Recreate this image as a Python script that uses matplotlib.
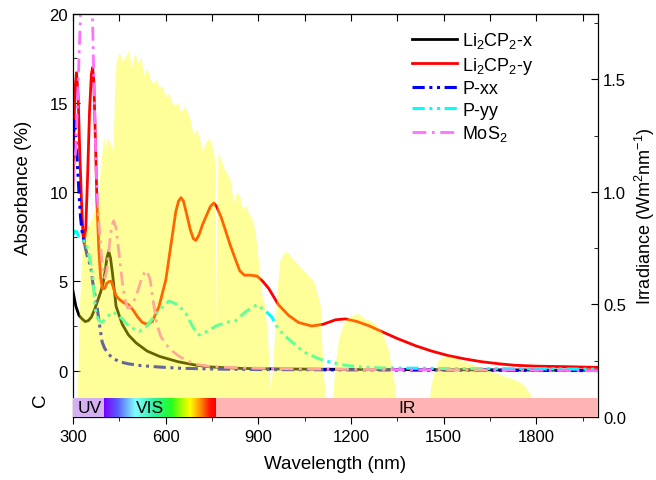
import numpy as np
import matplotlib
matplotlib.use("Agg")
import matplotlib.pyplot as plt
from matplotlib.colors import LinearSegmentedColormap
from matplotlib.ticker import MultipleLocator, FixedLocator
import matplotlib.transforms as mtransforms

plt.rcParams['font.family'] = ['Liberation Sans', 'DejaVu Sans']
plt.rcParams['mathtext.fontset'] = 'custom'
plt.rcParams['mathtext.rm'] = 'Liberation Sans'
plt.rcParams['mathtext.it'] = 'Liberation Sans:italic'
plt.rcParams['mathtext.bf'] = 'Liberation Sans:bold'

# -------------------------------
# Absorbance data
# -------------------------------
wl_x = [300, 310, 320, 330, 340, 350, 360, 370, 380, 390, 398, 405, 410, 416,
        422, 428, 440, 460, 480, 505, 540, 580, 640, 700, 750, 850, 1000,
        1200, 1500, 1800, 2000]
abs_x = [4.5, 3.6, 3.1, 2.9, 2.75, 2.8, 3.0, 3.4, 3.9, 4.4, 4.9, 5.6, 6.3, 6.7,
         6.3, 5.5, 3.6, 2.6, 2.0, 1.55, 1.1, 0.8, 0.5, 0.3, 0.2, 0.12, 0.09,
         0.07, 0.05, 0.03, 0.02]

wl_y = [300, 303, 307, 312, 317, 322, 328, 333, 337, 342, 348, 354, 360, 364,
        368, 373, 378, 384, 390, 396, 403, 410, 418, 425, 432, 440, 450, 465,
        480, 495, 510, 525, 540, 557, 579, 601, 617, 633, 642, 650, 658, 668,
        680, 690, 698, 708, 720, 730, 745, 756, 765, 780, 795, 810, 827, 840,
        855, 875, 896, 915, 934, 965, 998, 1030, 1073, 1110, 1150, 1182, 1220,
        1260, 1298, 1350, 1408, 1460, 1515, 1570, 1622, 1680, 1730, 1800,
        1900, 2000]
abs_y = [10.0, 13.0, 15.8, 16.7, 15.5, 12.5, 9.5, 7.6, 7.1, 8.0, 11.0, 14.5,
         16.6, 17.0, 16.2, 13.0, 9.5, 6.8, 5.2, 4.6, 4.6, 4.9, 5.0, 5.0, 4.6,
         4.2, 4.0, 3.8, 3.7, 3.4, 3.0, 2.7, 2.6, 2.75, 3.6, 5.1, 7.0, 8.9, 9.5,
         9.7, 9.5, 8.8, 7.9, 7.4, 7.3, 7.6, 8.2, 8.6, 9.2, 9.4, 9.2, 8.6, 7.8,
         7.0, 6.2, 5.6, 5.35, 5.35, 5.3, 5.0, 4.6, 3.7, 3.1, 2.7, 2.5, 2.6,
         2.85, 2.9, 2.75, 2.5, 2.2, 1.8, 1.4, 1.1, 0.84, 0.65, 0.5, 0.38, 0.3,
         0.25, 0.22, 0.18]

wl_pxx = [300, 303, 306, 310, 315, 320, 325, 330, 337, 347, 353, 360, 364,
          369, 374, 379, 387, 395, 403, 411, 425, 450, 480, 520, 580, 650,
          750, 900, 1200, 1600, 2000]
abs_pxx = [12.0, 13.5, 14.0, 13.2, 11.5, 10.0, 8.6, 7.8, 7.2, 6.4, 6.1, 5.6,
           5.0, 4.5, 4.0, 3.5, 2.5, 1.6, 1.25, 1.05, 0.75, 0.5, 0.38, 0.28,
           0.2, 0.13, 0.09, 0.06, 0.04, 0.02, 0.0]

wl_pyy = [300, 305, 312, 320, 330, 343, 348, 353, 358, 363, 368, 372, 376,
          385, 395, 410, 430, 445, 460, 475, 490, 515, 540, 557, 585, 611,
          640, 666, 690, 708, 735, 763, 795, 827, 859, 896, 920, 944, 966,
          990, 1009, 1030, 1053, 1095, 1128, 1180, 1234, 1300, 1500, 1800,
          2000]
abs_pyy = [7.6, 7.8, 7.8, 7.5, 7.3, 7.2, 6.8, 6.4, 6.0, 5.5, 4.5, 3.6, 3.1,
           2.8, 2.7, 3.0, 3.3, 3.1, 2.9, 2.6, 2.4, 2.2, 2.5, 2.9, 3.5, 3.9,
           3.7, 3.2, 2.4, 2.0, 2.2, 2.5, 2.7, 2.8, 3.3, 3.7, 3.4, 3.0, 2.3,
           1.9, 1.6, 1.3, 1.0, 0.67, 0.5, 0.3, 0.2, 0.15, 0.12, 0.1, 0.08]

wl_mos2 = [300, 305, 310, 314, 318, 322, 326, 330, 345, 358, 362, 366, 370,
           375, 380, 388, 396, 404, 410, 418, 425, 432, 440, 452, 462, 470,
           478, 490, 505, 520, 532, 540, 550, 560, 572, 585, 600, 615, 640,
           670, 700, 750, 850, 1000, 1300, 1700, 2000]
abs_mos2 = [10.5, 11.5, 12.5, 14.5, 16.5, 18.5, 20.5, 22.0, 24.0, 22.5, 21.0,
            18.0, 15.0, 11.5, 9.5, 7.5, 5.8, 5.2, 5.6, 7.0, 8.0, 8.4, 8.0,
            6.2, 4.7, 3.9, 3.5, 3.6, 4.2, 5.0, 5.5, 5.6, 5.1, 3.9, 2.6, 1.9,
            1.5, 1.2, 0.85, 0.55, 0.35, 0.22, 0.15, 0.1, 0.06, 0.03, 0.0]

# -------------------------------
# Solar irradiance (AM1.5)
# -------------------------------
wl_sun = [300, 310, 315, 320, 330, 340, 350, 360, 370, 380, 390, 400, 405,
          410, 420, 430, 435, 440, 450, 460, 470, 480, 490, 500, 510, 520,
          530, 540, 550, 560, 570, 580, 590, 600, 610, 620, 630, 640, 650,
          660, 670, 680, 690, 700, 710, 720, 730, 740, 750, 758, 762, 766,
          770, 780, 790, 800, 810, 820, 830, 840, 850, 860, 870, 880, 890,
          900, 910, 920, 930, 940, 950, 960, 970, 980, 990, 1000, 1020, 1040,
          1060, 1080, 1100, 1110, 1120, 1130, 1140, 1150, 1160, 1180, 1200,
          1220, 1240, 1260, 1280, 1300, 1320, 1340, 1350, 1440, 1450, 1460,
          1480, 1500, 1520, 1540, 1560, 1580, 1600, 1620, 1640, 1660, 1680,
          1700, 1720, 1740, 1760, 1780, 1790, 2000]
irr_sun = [0.0, 0.0, 0.1, 0.45, 0.75, 0.82, 0.85, 0.88, 0.92, 0.95, 1.12,
           1.25, 1.18, 1.24, 1.22, 1.18, 1.45, 1.58, 1.62, 1.58, 1.6, 1.63,
           1.55, 1.62, 1.57, 1.6, 1.52, 1.55, 1.5, 1.48, 1.5, 1.46, 1.47,
           1.42, 1.44, 1.4, 1.38, 1.4, 1.35, 1.38, 1.36, 1.32, 1.25, 1.28,
           1.24, 1.18, 1.22, 1.24, 1.21, 1.15, 0.4, 0.9, 1.18, 1.14, 1.1,
           1.08, 1.05, 0.95, 1.0, 0.98, 0.92, 0.94, 0.9, 0.88, 0.82, 0.7,
           0.55, 0.5, 0.35, 0.1, 0.3, 0.55, 0.7, 0.72, 0.74, 0.72, 0.69,
           0.66, 0.63, 0.6, 0.5, 0.2, 0.05, 0.02, 0.08, 0.25, 0.35, 0.43,
           0.45, 0.46, 0.44, 0.43, 0.41, 0.38, 0.3, 0.15, 0.0, 0.0, 0.05,
           0.15, 0.25, 0.27, 0.27, 0.26, 0.25, 0.24, 0.23, 0.22, 0.21, 0.2,
           0.19, 0.18, 0.17, 0.16, 0.14, 0.1, 0.0, 0.0]

# Spectral regions of the colour band
uv_range = (300, 400)
vis_range = (400, 760)
ir_range = (760, 2000)

# -------------------------------
# Figure
# -------------------------------
fig = plt.figure(figsize=(6.56, 4.81), dpi=100)
ax = fig.add_axes([0.111, 0.131, 0.801, 0.838])
ax2 = ax.twinx()

h1, = ax.plot(wl_x, abs_x, color="black", lw=2.0, label="Li$_2$CP$_2$-x")
h2, = ax.plot(wl_y, abs_y, color="#ff0000", lw=2.0, label="Li$_2$CP$_2$-y")
h3, = ax.plot(wl_pxx, abs_pxx, color="#0000ff", lw=2.2,
              ls=(0, (4, 1.5, 1, 1.5, 1, 1.5)), label="P-xx")
h4, = ax.plot(wl_pyy, abs_pyy, color="#00ffff", lw=2.2,
              ls=(0, (4, 1.5, 1, 1.5, 1, 1.5)), label="P-yy")
h5, = ax.plot(wl_mos2, abs_mos2, color="#ff70ff", lw=2.0,
              ls=(0, (5, 2, 1, 2)), label="MoS$_2$")

# sun spectrum drawn on top of the curves
ax2.fill_between(wl_sun, irr_sun, 0, color="#ffff00", alpha=0.4, lw=0,
                 zorder=1)

# colour band (UV / VIS / IR)
band_h = 0.047
ax2.axvspan(*uv_range, ymin=0, ymax=band_h, color="#d4b0f2", zorder=3, lw=0)
ax2.axvspan(*ir_range, ymin=0, ymax=band_h, color="#ffb4b4", zorder=3, lw=0)
vis_cmap = LinearSegmentedColormap.from_list("vis", [
    (0.0, "#7a00ff"), (0.12, "#5a5cff"), (0.28, "#80ffff"),
    (0.45, "#30f0a0"), (0.6, "#20ff20"), (0.7, "#b0ff00"),
    (0.77, "#ffff00"), (0.86, "#ff9000"), (0.95, "#ff1000"),
    (1.0, "#ff0000")])
trans = mtransforms.blended_transform_factory(ax2.transData, ax2.transAxes)
grad = np.linspace(0, 1, 256).reshape(1, -1)
ax2.imshow(grad, extent=(vis_range[0], vis_range[1], 0, band_h),
           transform=trans, aspect="auto", cmap=vis_cmap, zorder=3)
ax2.text(354, band_h / 2, "UV", transform=trans, ha="center", va="center",
         fontsize=12.5, zorder=4)
ax2.text(551, band_h / 2, "VIS", transform=trans, ha="center", va="center",
         fontsize=12.5, zorder=4)
ax2.text(1380, band_h / 2, "IR", transform=trans, ha="center", va="center",
         fontsize=12.5, zorder=4)

# axes limits / ticks
ax.set_xlim(300, 2000)
ax.set_ylim(-2.6, 20)
ax2.set_ylim(0, 1.79)
ax2.set_xlim(300, 2000)

ax.xaxis.set_major_locator(FixedLocator([300, 600, 900, 1200, 1500, 1800]))
ax.xaxis.set_minor_locator(MultipleLocator(150))
ax.yaxis.set_major_locator(FixedLocator([0, 5, 10, 15, 20]))
ax.yaxis.set_minor_locator(MultipleLocator(2.5))
ax2.yaxis.set_major_locator(FixedLocator([0.0, 0.5, 1.0, 1.5]))
ax2.yaxis.set_minor_locator(MultipleLocator(0.25))
ax2.yaxis.set_major_formatter(plt.FormatStrFormatter("%.1f"))

ax.tick_params(axis="x", which="major", direction="out", length=5,
               labelsize=12)
ax.tick_params(axis="x", which="minor", direction="out", length=3)
ax.tick_params(axis="y", which="major", direction="in", length=5,
               labelsize=12, right=False)
ax.tick_params(axis="y", which="minor", direction="in", length=3,
               right=False)
ax2.tick_params(axis="y", which="major", direction="in", length=5,
                labelsize=12)
ax2.tick_params(axis="y", which="minor", direction="in", length=3)

top = ax.secondary_xaxis("top")
top.xaxis.set_major_locator(MultipleLocator(150))
top.tick_params(which="major", direction="in", length=5, labeltop=False)

ax.set_xlabel("Wavelength (nm)", fontsize=13.5, labelpad=8)
ax.set_ylabel("Absorbance (%)", fontsize=13.5)
ax.yaxis.set_label_coords(-0.078, 0.57)
ax2.set_ylabel("Irradiance (Wm$^2$nm$^{-1}$)", fontsize=13)
ax2.yaxis.set_label_coords(1.066, 0.5)

fig.text(40 / 656, 1 - 400 / 481, "C", rotation=90, fontsize=13.5,
         ha="center", va="center")

ax2.legend([h1, h2, h3, h4, h5],
           [h.get_label() for h in (h1, h2, h3, h4, h5)],
           loc="upper left", bbox_to_anchor=(0.645, 0.96), frameon=False,
           fontsize=13, handlelength=2.5, handletextpad=0.3,
           labelspacing=0.25, borderaxespad=0, borderpad=0)

fig.savefig("out.png", dpi=100)
